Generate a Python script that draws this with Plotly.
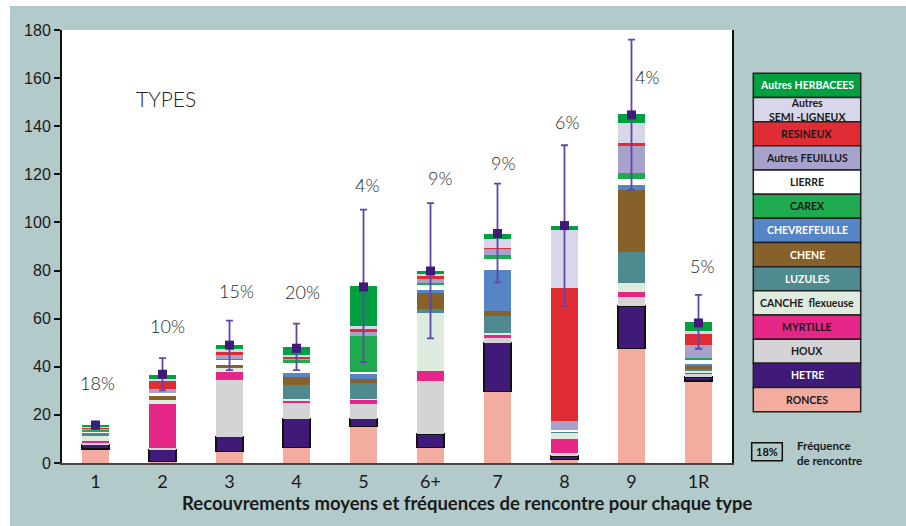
import plotly.graph_objects as go

# ---------------- DATA ----------------
categories = ["1", "2", "3", "4", "5", "6+", "7", "8", "9", "1R"]

# stacked from bottom to top
ronces        = [5.8, 0.6, 4.8, 6.5, 15.2, 6.5, 29.8, 1.4, 47.5, 34.0]
hetre         = [1.8, 5.1, 6.2, 11.9, 3.2, 5.6, 20.2, 1.5, 17.8, 1.8]
houx          = [0.9, 0.7, 23.3, 6.8, 6.2, 21.9, 2.1, 1.4, 3.8, 1.4]
myrtille      = [0.7, 18.2, 3.7, 0.8, 1.7, 4.4, 1.4, 5.7, 1.9, 0.5]
canche        = [2.1, 1.4, 1.5, 0.7, 0.4, 23.8, 0.7, 2.7, 3.8, 0.8]
luzules       = [1.2, 0.0, 0.0, 5.9, 6.7, 1.7, 6.9, 0.4, 12.9, 0.6]
chene         = [0.0, 1.9, 1.4, 3.0, 1.7, 7.1, 2.1, 0.0, 25.8, 1.4]
chevrefeuille = [0.0, 0.0, 0.0, 1.7, 1.7, 0.8, 17.1, 0.0, 2.2, 0.8]
lierre        = [0.4, 1.4, 2.0, 4.2, 1.2, 2.3, 4.5, 0.7, 2.5, 1.7]
carex         = [0.9, 0.0, 0.5, 1.7, 15.0, 0.7, 1.7, 0.0, 2.5, 0.8]
feuillus      = [0.4, 1.5, 1.7, 0.4, 1.4, 1.6, 2.5, 3.7, 10.9, 5.1]
resineux      = [0.4, 3.3, 1.4, 0.6, 1.5, 1.4, 0.4, 55.2, 1.6, 4.6]
semi_ligneux  = [0.4, 0.8, 0.7, 0.7, 1.2, 0.7, 3.7, 24.2, 8.0, 1.2]
herbacees     = [0.9, 1.7, 1.8, 3.2, 16.3, 1.3, 2.1, 1.7, 3.8, 3.8]

mean_cover  = [15.7, 36.9, 49.0, 47.7, 73.2, 79.8, 95.4, 98.7, 144.7, 58.2]
upper_bound = [17.3, 43.6, 59.2, 57.9, 105.3, 108.0, 116.1, 132.1, 176.0, 69.9]
lower_bound = [14.3, 30.2, 38.6, 38.6, 41.9, 51.8, 75.1, 65.3, 113.5, 47.5]

freq_labels = ["18%", "10%", "15%", "20%", "4%", "9%", "9%", "6%", "4%", "5%"]
freq_label_y = [33.3, 56.9, 71.3, 71.1, 115.6, 118.4, 124.6, 141.9, 160.5, 81.9]
freq_label_dx = [2, 5, 7, 6, 3, 9, 5, 2, 15, 3]

y_ticks = [0, 20, 40, 60, 80, 100, 120, 140, 160, 180]

# legend (top to bottom)
legend_names = ["Autres HERBACEES", "Autres<br>SEMI -LIGNEUX", "RESINEUX", "Autres FEUILLUS",
                "LIERRE", "CAREX", "CHEVREFEUILLE", "CHENE", "LUZULES", "CANCHE  flexueuse",
                "MYRTILLE", "HOUX", "HETRE", "RONCES"]

# ---------------- STYLE ----------------
C = {
    "ronces": "#F2ACA0", "hetre": "#3F1A78", "houx": "#D4D4D6", "myrtille": "#E42686",
    "canche": "#DEEBDF", "luzules": "#4E8A8E", "chene": "#86622A", "chevrefeuille": "#5585C4",
    "lierre": "#FFFFFF", "carex": "#1EAA4E", "feuillus": "#A6A2CC", "resineux": "#E02C33",
    "semi": "#D8D6EA", "herbacees": "#00A040",
}
stack = [
    (ronces, "ronces"), (hetre, "hetre"), (houx, "houx"), (myrtille, "myrtille"),
    (canche, "canche"), (luzules, "luzules"), (chene, "chene"), (chevrefeuille, "chevrefeuille"),
    (lierre, "lierre"), (carex, "carex"), (feuillus, "feuillus"), (resineux, "resineux"),
    (semi_ligneux, "semi"), (herbacees, "herbacees"),
]
legend_keys = ["herbacees", "semi", "resineux", "feuillus", "lierre", "carex", "chevrefeuille",
               "chene", "luzules", "canche", "myrtille", "houx", "hetre", "ronces"]
legend_text_col = {"herbacees": "white", "chevrefeuille": "white", "chene": "white",
                   "luzules": "white", "hetre": "white"}

BG = "#B3CACB"
W_FIG, H_FIG = 906, 526
L, R, T, B = 62, 174, 30, 63
PW, PH = W_FIG - L - R, H_FIG - T - B


def px_x(x):
    return (x - L) / PW


def px_y(y):
    return (H_FIG - B - y) / PH


fig = go.Figure()

for vals, key in stack:
    fig.add_trace(go.Bar(
        x=categories, y=vals, name=key, width=0.41,
        marker=dict(color=C[key],
                    line=dict(color="#111111", width=1.5 if key == "hetre" else 0)),
        hoverinfo="skip",
    ))

fig.add_trace(go.Scatter(
    x=categories, y=mean_cover, mode="markers",
    marker=dict(symbol="square", size=9, color="#3F1A78"),
    error_y=dict(type="data", symmetric=False,
                 array=[u - m for u, m in zip(upper_bound, mean_cover)],
                 arrayminus=[m - l for m, l in zip(mean_cover, lower_bound)],
                 color="#6245A6", thickness=1.8, width=3.5),
    hoverinfo="skip",
))

annotations = []
for i, (txt, yv, dx) in enumerate(zip(freq_labels, freq_label_y, freq_label_dx)):
    annotations.append(dict(x=i, y=yv, text=txt, showarrow=False, xshift=dx,
                            font=dict(family="Lato", size=18, color="#262626", weight=300),
                            xanchor="center", yanchor="middle"))

annotations.append(dict(xref="paper", yref="paper", x=px_x(166), y=px_y(98), text="TYPES",
                        showarrow=False, xanchor="center", yanchor="middle",
                        font=dict(family="Lato", size=21, color="#222222", weight=300)))

annotations.append(dict(xref="paper", yref="paper", x=px_x(467), y=px_y(502.5),
                        text="Recouvrements moyens et fréquences de rencontre pour chaque type",
                        showarrow=False, xanchor="center", yanchor="middle",
                        font=dict(family="Lato", size=18.5, color="#1a1a1a", weight=700)))

shapes = [
    # white outer margins
    dict(type="rect", xref="paper", yref="paper", x0=px_x(0), x1=px_x(W_FIG), y0=px_y(0), y1=px_y(6),
         fillcolor="white", line=dict(width=0), layer="below"),
    dict(type="rect", xref="paper", yref="paper", x0=px_x(0), x1=px_x(10), y0=px_y(0), y1=px_y(H_FIG),
         fillcolor="white", line=dict(width=0), layer="below"),
]

# custom legend
lx0, lx1 = 753.3, 860.7
ly0, step = 73.3, 24.17
for i, (name, key) in enumerate(zip(legend_names, legend_keys)):
    y_top = ly0 + i * step
    shapes.append(dict(type="rect", xref="paper", yref="paper",
                       x0=px_x(lx0), x1=px_x(lx1), y0=px_y(y_top + step), y1=px_y(y_top),
                       fillcolor=C[key], line=dict(color="#222222", width=1.5)))
    annotations.append(dict(xref="paper", yref="paper", x=px_x((lx0 + lx1) / 2),
                            y=px_y(y_top + step / 2), text=name, showarrow=False,
                            xanchor="center", yanchor="middle",
                            font=dict(family="Lato", size=10.5, weight=700,
                                      color=legend_text_col.get(key, "#1a1a1a"))))

# frequency key
shapes.append(dict(type="rect", xref="paper", yref="paper", x0=px_x(751.7), x1=px_x(782.3),
                   y0=px_y(460.7), y1=px_y(442.7), line=dict(color="#111111", width=1.5)))
annotations.append(dict(xref="paper", yref="paper", x=px_x(767), y=px_y(451.7), text="18%",
                        showarrow=False, xanchor="center", yanchor="middle",
                        font=dict(family="Lato", size=11, weight=700, color="#111111")))
annotations.append(dict(xref="paper", yref="paper", x=px_x(795), y=px_y(452.5),
                        text="Fréquence<br>de rencontre", showarrow=False, align="left",
                        xanchor="left", yanchor="middle",
                        font=dict(family="Lato", size=11.5, weight=700, color="#1a1a1a")))

fig.update_layout(
    width=W_FIG, height=H_FIG,
    margin=dict(l=L, r=R, t=T, b=B, pad=0),
    paper_bgcolor=BG, plot_bgcolor="white",
    barmode="stack", bargap=0.59, showlegend=False,
    shapes=shapes, annotations=annotations,
    xaxis=dict(type="category", range=[-0.5, len(categories) - 0.5],
               showline=True, linecolor="#444444", linewidth=2,
               ticks="", showgrid=False, zeroline=False,
               tickfont=dict(family="Lato", size=18, color="#1a1a1a"), ticklabelstandoff=1),
    yaxis=dict(range=[0, 180], tickvals=y_ticks, showline=True, linecolor="#111111", linewidth=2,
               mirror=True, ticks="outside", ticklen=6, tickwidth=2, tickcolor="#111111",
               showgrid=False, zeroline=False,
               tickfont=dict(family="Liberation Sans", size=16, color="#1a1a1a")),
)

fig.write_html("out.html", config={"displayModeBar": False},
               post_script="document.body.style.margin='0';document.body.style.overflow='hidden';")
